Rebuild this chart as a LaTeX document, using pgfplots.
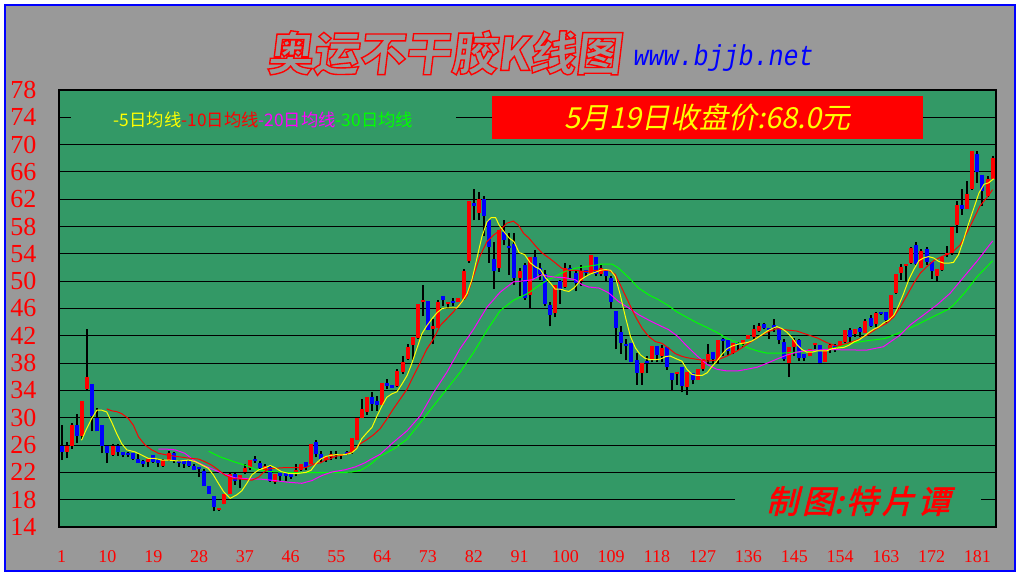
\documentclass[border=0pt]{standalone}
\usepackage{pgfplots}
\pgfplotsset{compat=1.18}
\usepackage{pgfplotstable}
\usepackage{fontspec}
\setmainfont{Liberation Serif}
\newfontfamily\cjk{Noto Sans CJK SC}
\newfontfamily\cjksl[FakeSlant=0.2]{Noto Sans CJK SC}
\newfontfamily\cjkslb[FakeSlant=0.25,FakeBold=2]{Noto Sans CJK SC}
\newfontfamily\titlefont[FakeSlant=0.12,FakeBold=3]{Noto Sans CJK SC}
\newfontfamily\monosl[FakeSlant=0.2]{Liberation Mono}
\definecolor{bggray}{RGB}{153,153,153}
\definecolor{plotgreen}{RGB}{51,153,102}
\definecolor{mayellow}{RGB}{255,255,0}
\definecolor{magreen}{RGB}{0,255,0}
\definecolor{mamag}{RGB}{255,0,255}

\pgfplotstableread{
i o h l c
2 25.0 26.4 24.1 25.9
3 25.9 29.2 25.4 28.9
5 27.4 32.4 26.9 32.4
6 34.2 43.0 34.0 35.9
11 24.5 26.2 24.4 25.9
18 23.5 23.9 22.8 23.9
21 22.9 23.9 22.8 23.8
22 23.8 25.2 23.6 24.9
32 16.5 16.8 16.4 16.75
33 17.4 18.9 17.3 18.9
34 18.9 21.9 18.9 21.7
36 21.1 21.6 19.7 21.6
37 22.05 23.3 21.7 22.7
38 22.6 23.8 22.3 23.8
41 22.4 23.3 22.05 23.0
43 20.6 21.7 20.3 21.7
47 21.7 23.2 21.4 22.4
48 22.4 23.3 22.2 23.3
50 23.3 26.1 23.2 26.1
53 23.8 24.4 23.5 24.4
54 24.3 25.1 23.8 24.75
55 24.55 25.2 24.0 24.75
56 24.4 24.65 23.9 24.65
58 25.0 27.05 24.75 27.05
59 26.8 30.0 26.7 30.0
60 30.0 32.8 29.9 31.3
61 30.9 33.0 30.4 33.0
64 31.8 35.1 31.8 35.1
67 34.6 37.1 34.45 36.9
68 36.75 39.1 36.4 38.2
69 38.6 40.8 38.5 40.4
70 40.6 41.85 38.5 41.85
71 41.7 46.7 41.55 46.65
72 46.9 49.4 44.85 47.2
74 43.0 44.4 40.8 43.4
75 43.2 47.3 43.2 47.0
77 46.65 46.9 46.1 46.9
79 46.9 47.5 46.9 47.5
80 47.4 51.8 47.3 51.5
81 52.9 61.75 52.7 61.75
83 60.0 63.0 58.9 62.05
87 52.0 57.5 51.4 57.5
91 50.5 51.9 47.8 51.5
93 48.0 53.6 45.9 53.6
98 45.3 49.5 44.7 49.5
100 49.15 52.7 49.0 51.9
103 50.0 52.4 49.3 51.45
105 51.2 53.9 51.0 53.9
107 51.0 52.3 50.8 51.9
115 36.6 38.0 34.8 38.0
117 38.5 40.5 38.1 40.5
119 39.05 40.7 38.1 40.2
122 36.4 36.75 34.8 36.75
124 34.5 36.7 33.4 36.7
126 35.5 37.1 35.5 37.1
127 37.1 38.65 36.8 38.55
128 38.45 40.85 38.05 39.4
130 38.4 41.35 38.05 41.35
133 39.5 40.9 39.3 40.9
135 40.75 41.4 40.4 41.4
136 41.6 42.1 41.5 42.1
137 41.9 43.55 41.6 43.05
138 42.7 43.9 42.5 43.45
144 38.05 40.4 35.95 40.4
145 40.4 41.7 39.1 41.4
148 39.0 40.1 39.0 40.0
149 40.6 40.9 40.1 40.9
151 38.15 40.1 38.15 40.1
152 40.1 40.75 39.5 40.6
154 40.5 41.2 40.4 41.2
155 41.1 42.8 40.9 42.8
157 42.25 42.95 41.85 42.95
159 42.45 44.4 42.35 44.2
161 43.8 45.5 43.3 45.4
164 44.55 48.0 44.4 48.0
165 48.25 51.1 48.15 51.1
166 51.2 52.55 50.2 52.05
167 52.25 52.5 50.0 52.5
168 52.65 55.0 52.55 54.85
170 51.9 54.7 51.9 54.35
173 50.7 51.75 50.05 51.75
174 51.65 53.6 51.55 53.6
175 53.85 55.1 53.6 54.1
176 54.1 57.9 53.9 57.9
177 58.3 61.7 57.0 61.2
179 60.6 64.65 60.5 62.7
180 63.5 69.05 63.4 69.05
183 62.45 65.4 62.35 65.0
184 65.0 68.4 65.0 68.0
}\upc

\pgfplotstableread{
i o h l c
1 25.9 28.9 23.8 25.0
4 28.9 30.5 26.3 27.4
7 34.9 35.0 28.0 30.2
8 29.9 31.4 28.0 28.0
9 28.9 28.9 24.8 25.9
10 25.9 25.9 23.4 24.8
12 25.9 26.1 24.4 25.0
13 25.0 25.0 24.2 24.5
14 24.9 25.0 24.3 24.6
15 24.8 24.8 23.8 23.9
16 23.9 24.7 23.4 23.4
17 23.6 23.8 22.8 23.3
19 24.5 24.6 23.4 23.5
20 23.8 23.9 22.8 23.4
23 24.9 25.0 23.4 23.8
24 23.7 23.8 22.8 23.4
25 23.6 23.7 22.7 23.2
26 23.6 23.8 22.8 22.9
27 22.9 23.2 22.3 22.4
28 22.8 22.8 21.3 22.55
29 22.2 22.5 20.0 20.0
30 20.0 20.0 18.9 18.9
31 18.5 18.5 16.3 16.9
35 21.8 22.05 20.2 20.7
39 24.0 24.4 23.4 23.6
40 23.4 23.6 22.3 22.6
42 22.8 23.0 20.6 20.7
44 22.05 22.1 20.7 21.4
45 21.9 21.9 20.7 21.4
46 21.9 21.9 21.1 21.3
49 23.5 23.5 22.3 22.8
51 26.5 26.7 24.2 24.75
52 24.7 25.2 23.5 24.0
57 25.0 25.2 24.6 24.7
62 33.0 33.8 31.0 32.0
63 32.4 33.2 31.0 31.9
65 35.1 35.7 34.2 34.6
66 34.75 34.8 34.4 34.4
73 47.05 47.05 42.8 42.9
76 47.9 47.9 46.4 47.2
78 47.1 47.5 46.4 46.8
82 61.5 63.5 58.9 61.0
84 62.05 62.5 56.6 59.6
85 58.9 58.9 52.7 55.0
86 53.2 55.8 48.9 51.5
88 57.25 59.0 55.3 56.0
89 55.2 57.1 50.9 54.9
90 55.4 57.1 49.4 50.5
92 52.4 52.6 47.3 47.5
94 53.6 54.6 50.3 50.5
95 51.9 52.7 50.2 51.0
96 51.0 51.7 46.4 46.7
97 46.55 47.0 43.4 45.1
99 50.0 50.2 46.7 48.75
101 51.9 52.4 50.5 51.45
102 51.2 51.7 48.5 49.7
104 51.7 51.7 50.7 51.2
106 53.6 53.6 50.7 51.0
108 51.7 51.7 50.1 50.7
109 50.5 50.7 45.9 47.0
110 45.6 45.6 40.0 43.1
111 42.6 43.4 39.4 41.0
112 40.8 41.5 38.4 40.5
113 41.0 41.0 38.1 38.1
114 38.5 39.5 34.8 36.6
116 38.25 39.0 36.5 38.0
118 40.5 40.5 38.1 39.2
120 40.3 40.3 37.0 37.4
121 36.5 36.5 34.1 35.5
123 37.5 37.5 33.7 34.6
125 36.6 36.6 34.9 35.6
129 39.6 39.6 38.05 38.55
131 41.5 41.7 39.0 41.25
132 41.4 41.4 39.0 39.8
134 41.0 41.1 39.9 40.6
139 43.7 43.9 43.0 43.1
140 43.2 43.2 41.6 42.9
141 43.55 44.5 42.6 43.2
142 43.2 43.35 40.75 41.35
143 41.1 41.6 38.3 38.55
146 41.4 41.5 38.3 38.8
147 39.3 39.3 38.3 38.8
150 40.6 40.6 37.8 38.05
153 40.5 40.75 39.6 40.1
156 42.8 43.1 41.1 41.85
158 43.1 43.3 41.85 42.6
160 44.65 45.05 43.3 43.4
162 45.5 45.5 45.05 45.2
163 45.5 45.5 43.9 44.3
169 55.35 55.8 52.4 52.55
171 54.7 55.0 52.4 52.85
172 52.85 52.85 50.3 51.55
178 61.1 63.5 59.75 60.6
181 68.6 69.05 64.4 66.0
182 65.6 65.6 61.0 63.2
}\dnc

\pgfplotsset{candle/.style={draw=none, mark=none, forget plot, error bars/.cd, y dir=plus, y explicit, error mark=none}}

\begin{document}
\begin{tikzpicture}[x=0.75pt,y=0.75pt]
\fill[white] (0,0) rectangle (1020,576);
\fill[bggray] (5,5) rectangle (1015,571);
\draw[blue, line width=1.5pt] (5,5) rectangle (1015,571);
\begin{axis}[
  at={(44.25pt,36.75pt)}, anchor=south west,
  scale only axis, width=702.75pt, height=327.75pt,
  xmin=0.47, xmax=184.66, ymin=14, ymax=78,
  axis background/.style={fill=plotgreen},
  axis line style={black, line width=1.5pt},
  ytick={14,18,...,78},
  xtick={1,10,...,181},
  ymajorgrids, major grid style={black, line width=0.75pt},
  major tick length=0pt, tick style={draw=none},
  /pgf/number format/assume math mode=true,
  yticklabel style={text=red, font=\fontsize{19.5}{20}\selectfont, anchor=west, xshift=-36.75pt, inner sep=0pt},
  xticklabel style={text=red, font=\fontsize{13.5}{14}\selectfont, anchor=north, yshift=-17.25pt, inner sep=0pt},
]
% wicks
\addplot[candle, error bar style={draw=black, line width=1.5pt}]
  table[x=i, y=l, y error expr=\thisrow{h}-\thisrow{l}] {\upc};
\addplot[candle, error bar style={draw=black, line width=1.5pt}]
  table[x=i, y=l, y error expr=\thisrow{h}-\thisrow{l}] {\dnc};
% bodies
\addplot[candle, error bar style={draw=red, line width=3pt}]
  table[x=i, y=o, y error expr=\thisrow{c}-\thisrow{o}] {\upc};
\addplot[candle, error bar style={draw=blue, line width=3pt}]
  table[x=i, y=c, y error expr=\thisrow{o}-\thisrow{c}] {\dnc};
% MA30
\addplot[magreen, line width=0.75pt, mark=none] coordinates {
(29.9,25.1)(31.2,24.6)(32.4,24.2)(35.1,23.5)(37.7,22.9)(39.0,22.45)(42.3,22.1)(45.5,22.0)(50.0,21.95)(55.4,21.95)(58.0,22.05)(59.7,22.3)(60.9,22.8)(61.9,23.3)(63.6,24.4)(66.2,25.4)(68.9,26.85)(71.5,29.3)(74.1,31.75)(76.7,34.2)(79.3,36.65)(82.0,39.6)(84.6,42.8)(87.2,45.7)(89.8,47.2)(91.8,47.9)(92.8,48.3)(94.1,49.0)(96.1,50.0)(98.0,50.7)(100.0,51.45)(102.0,51.9)(104.6,52.2)(107.2,52.5)(109.2,52.5)(110.5,51.9)(112.5,50.5)(114.4,49.0)(116.4,48.0)(118.3,47.3)(120.3,46.4)(121.95,45.5)(123.9,44.7)(125.9,43.9)(127.9,43.2)(129.8,42.5)(131.8,41.6)(133.8,41.0)(135.7,40.3)(137.7,39.8)(139.7,39.45)(141.6,39.45)(143.6,39.5)(145.5,39.6)(147.5,39.7)(149.5,39.8)(151.4,40.0)(153.4,40.3)(156.0,40.9)(159.5,41.3)(162.8,41.6)(165.8,42.5)(169.1,43.6)(172.3,44.8)(175.3,45.9)(176.3,46.5)(178.5,48.3)(181.0,50.7)(184.0,53.0)
};
% MA20
\addplot[mamag, line width=0.75pt, mark=none] coordinates {
(20.0,25.4)(21.7,25.4)(23.3,25.3)(25.2,24.8)(27.1,23.7)(29.3,22.9)(31.2,22.3)(33.1,21.7)(35.1,21.2)(37.7,21.05)(40.3,21.0)(42.9,20.8)(45.0,20.6)(48.2,20.4)(50.2,20.8)(52.2,21.55)(54.1,22.05)(56.8,22.4)(58.7,22.8)(60.6,23.4)(61.5,23.8)(63.6,24.65)(66.2,26.4)(68.9,28.1)(71.5,30.3)(74.1,33.7)(76.7,36.65)(79.3,40.1)(82.0,43.0)(84.6,46.2)(87.2,48.4)(89.8,49.9)(91.1,50.0)(93.5,50.2)(95.4,50.95)(96.8,50.7)(98.0,50.6)(100.0,50.5)(102.0,50.2)(103.3,49.5)(104.6,49.15)(106.6,49.0)(108.5,48.3)(110.5,47.0)(112.5,46.05)(114.4,45.1)(116.4,44.3)(118.3,43.6)(120.3,42.9)(121.95,42.0)(123.9,40.5)(125.9,39.05)(127.9,37.8)(129.8,37.1)(131.8,36.85)(133.8,36.85)(135.7,37.1)(137.7,37.4)(139.7,38.0)(141.6,38.6)(143.6,39.2)(145.5,39.6)(147.5,39.85)(149.5,39.9)(151.4,40.0)(154.7,39.95)(159.2,39.9)(162.5,40.4)(165.8,42.1)(167.8,43.6)(170.4,45.05)(173.0,46.5)(175.6,48.2)(178.2,50.5)(181.0,53.0)(184.0,55.9)
};
% MA10
\addplot[red, line width=0.75pt, mark=none] coordinates {
(9.85,31.3)(10.9,31.0)(11.8,30.9)(12.8,30.6)(14.1,29.9)(15.1,28.9)(16.1,27.2)(17.4,26.0)(18.7,25.3)(20.0,24.8)(22.0,24.5)(23.9,24.3)(25.9,24.1)(27.9,23.95)(29.2,23.55)(30.5,23.05)(31.8,22.35)(33.1,21.6)(34.4,21.1)(36.4,21.0)(38.4,20.85)(39.7,21.3)(40.7,22.0)(41.7,22.5)(42.9,22.6)(44.9,22.7)(46.9,22.7)(48.9,22.7)(49.9,23.0)(50.9,23.3)(51.9,23.4)(52.8,23.8)(53.8,24.0)(54.8,24.35)(55.8,24.5)(56.8,24.65)(57.7,25.0)(58.7,25.5)(59.7,26.2)(61.0,26.8)(62.3,27.5)(63.6,28.4)(64.9,29.8)(66.2,31.3)(67.5,32.7)(68.9,34.2)(70.2,36.2)(71.5,38.1)(72.8,40.1)(74.1,41.55)(75.4,43.5)(76.7,44.5)(78.0,45.5)(79.3,46.7)(80.7,47.9)(82.0,50.9)(83.3,53.8)(84.6,55.8)(85.9,56.75)(87.2,57.5)(88.5,58.5)(89.8,58.8)(90.8,58.2)(91.8,57.0)(92.8,56.35)(94.1,55.2)(95.4,54.15)(96.8,53.4)(98.0,52.7)(99.3,51.9)(100.7,51.6)(102.0,51.6)(103.3,51.45)(104.6,51.45)(105.9,51.6)(107.2,51.6)(108.5,51.6)(109.8,51.0)(111.1,49.0)(112.5,46.8)(113.8,44.8)(115.1,43.1)(116.4,41.9)(117.7,41.15)(119.0,40.9)(120.3,40.2)(121.6,39.4)(122.9,39.0)(123.9,38.8)(125.9,38.55)(127.9,38.3)(129.8,38.45)(131.8,39.05)(133.8,39.8)(135.7,40.75)(137.7,41.7)(139.7,42.55)(141.6,43.05)(143.6,42.85)(145.5,42.7)(147.5,42.2)(149.5,41.7)(151.4,41.0)(153.4,40.5)(155.4,40.9)(157.4,41.4)(159.3,42.1)(161.3,43.1)(163.3,43.9)(164.6,44.8)(165.9,46.3)(167.2,48.0)(168.5,49.7)(169.8,51.2)(171.1,52.15)(172.4,53.0)(173.7,53.5)(175.0,53.9)(176.3,54.4)(177.6,55.3)(178.9,57.05)(180.2,59.0)(181.5,61.0)(182.8,62.2)(184.0,63.4)
};
% MA5
\addplot[mayellow, line width=0.75pt, mark=none] coordinates {
(4.9,26.7)(5.9,28.4)(6.9,29.9)(7.9,31.1)(8.9,31.1)(9.85,30.85)(10.8,29.4)(11.8,27.7)(12.8,26.2)(13.8,25.3)(15.4,25.0)(16.7,24.55)(18.0,24.05)(19.3,24.05)(20.7,23.8)(22.0,23.8)(23.3,23.7)(24.6,23.7)(25.9,23.8)(27.2,23.6)(28.5,23.1)(29.8,22.6)(30.8,21.65)(31.8,20.4)(32.8,19.2)(34.1,18.2)(35.4,18.7)(36.4,19.3)(37.4,20.4)(38.4,21.65)(39.7,22.35)(41.0,22.7)(42.0,23.0)(42.9,22.7)(44.2,22.1)(45.6,21.85)(46.9,21.8)(48,21.9)(49,22.0)(50,22.3)(51,23.3)(52,24.0)(53,24.35)(54,24.5)(55,24.6)(56,24.55)(57,24.65)(58,24.85)(59,25.5)(60,26.95)(61,27.8)(62,28.6)(63,30.3)(64,31.8)(64.9,33.0)(65.9,33.5)(66.9,33.8)(67.9,34.95)(68.9,36.2)(69.8,37.9)(70.8,40.1)(71.8,42.3)(72.8,43.5)(73.8,44.5)(74.8,45.4)(75.8,46.0)(76.7,46.1)(78.7,46.1)(79.7,47.0)(80.7,48.2)(81.7,50.4)(82.6,53.3)(83.6,56.5)(84.6,58.7)(85.4,59.3)(86.3,59.3)(87.0,58.2)(88.0,57.2)(89.0,56.3)(89.9,55.8)(90.9,54.2)(92.0,53.9)(93.1,52.7)(94.1,52.1)(95.1,51.7)(96.1,50.5)(97.1,49.7)(98.0,48.85)(99.0,48.85)(100.0,48.6)(100.7,48.5)(101.7,49.0)(102.3,49.5)(103.0,50.2)(104.0,50.7)(105.0,51.1)(105.9,51.3)(106.9,51.6)(107.9,51.7)(108.9,51.6)(109.8,50.7)(110.8,48.0)(111.8,44.8)(112.8,41.9)(113.8,40.2)(114.8,39.2)(115.7,38.7)(116.7,38.5)(117.7,38.5)(118.7,38.6)(119.7,38.95)(120.6,39.05)(121.6,38.7)(122.9,38.3)(123.9,37.1)(124.9,36.35)(125.9,36.2)(126.9,36.2)(127.9,36.6)(128.8,37.5)(129.8,38.3)(130.8,39.3)(131.8,40.1)(132.8,40.5)(133.8,40.75)(134.7,40.9)(135.7,41.0)(136.7,41.25)(137.7,41.7)(138.7,42.2)(139.7,42.7)(140.6,43.05)(141.6,43.35)(142.6,43.05)(143.6,42.5)(144.6,41.7)(145.5,40.75)(146.5,40.0)(147.5,39.6)(148.5,39.6)(149.5,39.8)(151.4,39.8)(152.4,40.1)(153.4,40.2)(154.7,40.3)(155.7,40.6)(156.7,41.1)(157.7,41.4)(158.6,41.85)(159.6,42.45)(160.6,42.95)(161.6,43.3)(162.6,43.9)(163.6,44.3)(164.6,45.05)(165.5,46.4)(166.5,48.2)(167.5,50.2)(168.5,51.7)(169.5,53.0)(170.4,53.4)(171.4,53.6)(172.4,53.4)(173.4,52.9)(174.4,52.65)(175.4,52.65)(176.3,52.75)(177.3,53.9)(178.3,56.1)(179.3,58.5)(180.3,60.7)(181.3,62.9)(182.3,64.2)(183.2,64.4)(184.2,65.0)
};
\end{axis}
% title: gray fill with red stroke (single text)
\node[inner sep=0pt] at (444,523) {\fontsize{34.5}{35}\titlefont\bfseries\color{bggray}\special{pdf:literal direct 1 0 0 RG}奥运不干胶K线图};
\node[anchor=west, text=blue, inner sep=0pt, yscale=1.15] at (632,518) {\fontsize{18.75}{19}\monosl www.bjjb.net};
% legend
\node[fill=plotgreen, minimum width=288.75pt, minimum height=12pt, inner sep=0pt] at (263.5,456)
  {\fontsize{13}{13}\cjk{\color{mayellow}-5日均线}{\color{red}-10日均线}{\color{mamag}-20日均线}{\color{magreen}-30日均线}};
% price box
\node[fill=red, minimum width=323.25pt, minimum height=32.25pt, inner sep=0pt] at (707.5,458.5)
  {\fontsize{21.75}{22}\cjksl\color{mayellow}5月19日收盘价:68.0元};
% signature
\node[fill=plotgreen, minimum width=184.5pt, minimum height=21pt, inner sep=0pt] at (858,75)
  {\fontsize{24}{24}\cjkslb\color{red}制\hspace{3pt}图:\hspace{2pt}特\hspace{3pt}片\hspace{3pt}谭};
\end{tikzpicture}
\end{document}
